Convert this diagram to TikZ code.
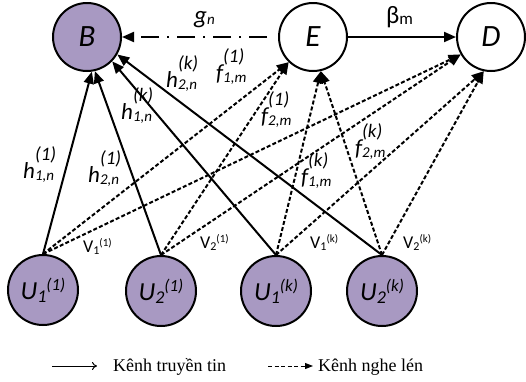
\documentclass[tikz,border=0pt]{standalone}
\usepackage{fontspec}
\setmainfont{Carlito}[ItalicFont=Carlito Italic]
\newfontfamily\legfont{Liberation Serif}
\usetikzlibrary{arrows.meta}
\definecolor{pur}{RGB}{168,153,194}
\newcommand\lab[3]{\textit{#1\makebox[0pt][l]{\raisebox{18pt}{\fontsize{19}{19}\selectfont #2}}\raisebox{-2pt}{\fontsize{15}{15}\selectfont #3}}}
\newcommand\vlab[2]{V\raisebox{-2pt}{\fontsize{12}{12}\selectfont #1}\raisebox{6pt}{\fontsize{11}{11}\selectfont (#2)}}
\newcommand\ulab[2]{\textit{U\raisebox{-3pt}{\fontsize{18}{18}\selectfont #1}\raisebox{9pt}{\fontsize{17}{17}\selectfont (#2)}}}
\tikzset{
  bnode/.style={circle,draw,line width=2pt,minimum size=68pt,inner sep=0pt,font=\fontsize{31}{31}\selectfont},
  unode/.style={circle,draw,fill=pur,line width=2pt,minimum size=70pt,inner sep=0pt,font=\fontsize{26}{26}\selectfont},
  tip/.style={-{Triangle[length=12pt,width=10pt]}},
  sol/.style={tip,line width=2pt},
  dsh/.style={tip,line width=2pt,dash pattern=on 4pt off 2.2pt},
  lbl/.style={anchor=base west,inner sep=0pt,font=\fontsize{23}{23}\selectfont},
  vl/.style={anchor=base west,inner sep=0pt,font=\fontsize{18}{18}\selectfont},
}
\begin{document}
\begin{tikzpicture}[x=1pt,y=-1pt]
\useasboundingbox (0,0) rectangle (526,381);
\node[bnode,fill=pur] (B) at (87,37) {\textit{B}};
\node[bnode] (E) at (313,37) {\textit{E}};
\node[bnode] (D) at (491,37) {\textit{D}};
\node[unode] (U11) at (43,290) {\ulab{1}{1}};
\node[unode] (U21) at (161,291) {\ulab{2}{1}};
\node[unode] (U1k) at (276,291) {\ulab{1}{k}};
\node[unode] (U2k) at (382,291) {\ulab{2}{k}};
% top links
\draw[tip,line width=2pt,dash pattern=on 18pt off 8pt on 2pt off 8pt,shorten <=11pt] (E.west) -- (B.east);
\draw[sol] (E.east) -- (D.west);
% solid to B
\draw[sol] (U11.north) -- (B.278);
\draw[sol] (U21.north) -- (B.283);
\draw[sol] (U1k.north) -- (B.316);
\draw[sol] (U2k.north) -- (B.330);
% dashed to E and D
\draw[dsh] (U11.north) -- (E.226);
\draw[dsh] (U21.north) -- (E.226);
\draw[dsh] (U1k.north) -- (E.283);
\draw[dsh] (U2k.north) -- (E.283);
\draw[dsh] (U11.north) -- (D.210);
\draw[dsh] (U21.north) -- (D.210);
\draw[dsh] (U1k.north) -- (D.258);
\draw[dsh] (U2k.north) -- (D.258);
% labels
\node[lbl,font=\fontsize{25}{25}\selectfont] (gn) at (194,23) {\textit{g\raisebox{-1pt}{\fontsize{15}{15}\selectfont n}}};
\node[lbl,font=\fontsize{25}{25}\selectfont] (bm) at (386,23) {β\raisebox{-1pt}{\fontsize{17}{17}\selectfont m}};
\node[lbl] (h11) at (23,178) {\lab{h}{(1)}{1,n}};
\node[lbl] (h21) at (88,182) {\lab{h}{(1)}{2,n}};
\node[lbl] (h1k) at (121,119) {\lab{h}{(k)}{1,n}};
\node[lbl] (h2k) at (166,87) {\lab{h}{(k)}{2,n}};
\node[lbl] (f11) at (216,80) {\lab{f}{(1)}{1,m}};
\node[lbl] (f21) at (261,123) {\lab{f}{(1)}{2,m}};
\node[lbl] (f2k) at (355,155) {\lab{f}{(k)}{2,m}};
\node[lbl] (f1k) at (301,184) {\lab{f}{(k)}{1,m}};
\node[vl] (v11) at (83,252) {\vlab{1}{1}};
\node[vl] (v21) at (200,248) {\vlab{2}{1}};
\node[vl] (v1k) at (310,248) {\vlab{1}{k}};
\node[vl] (v2k) at (403,248) {\vlab{2}{k}};
% legend
\coordinate (l1a) at (52,366);
\coordinate (l1b) at (97,366);
\coordinate (l2a) at (268,366);
\coordinate (l2b) at (313,366);
\draw[line width=1pt,-{To[length=5pt,width=8pt]}] (l1a) -- (l1b);
\draw[line width=1pt,dash pattern=on 4pt off 2.5pt,-{Triangle[length=8pt,width=6pt]}] (l2a) -- (l2b);
\node[anchor=base west,inner sep=0pt,font=\legfont\fontsize{18}{18}\selectfont] (t1) at (113,371) {Kênh truyền tin};
\node[anchor=base west,inner sep=0pt,font=\legfont\fontsize{18}{18}\selectfont] (t2) at (318,371) {Kênh nghe lén};
\end{tikzpicture}
\end{document}
